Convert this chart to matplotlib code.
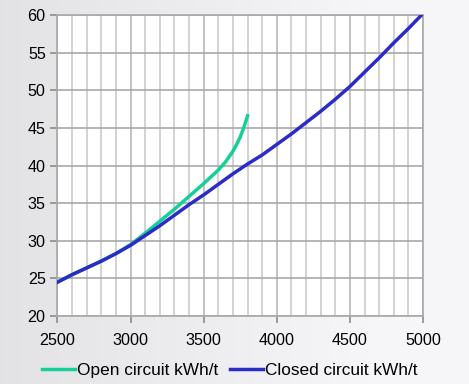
import matplotlib.pyplot as plt
import numpy as np

plt.rcParams['font.family'] = ['Liberation Sans', 'DejaVu Sans']

# energy (kWh/t) vs value
closed_x = [2500, 2600, 2700, 2800, 2900, 3000, 3100, 3200, 3300, 3400, 3500, 3600, 3700,
            3800, 3900, 4000, 4100, 4200, 4300, 4400, 4500, 4600, 4700, 4800, 4900, 5000]
closed_y = [24.5, 25.5, 26.4, 27.3, 28.3, 29.4, 30.7, 32.0, 33.4, 34.8, 36.1, 37.5, 38.9,
            40.2, 41.4, 42.8, 44.2, 45.7, 47.2, 48.8, 50.5, 52.4, 54.3, 56.3, 58.2, 60.2]

open_x = [2500, 2600, 2700, 2800, 2900, 3000, 3100, 3200, 3300, 3400, 3500, 3600, 3650,
          3700, 3725, 3750, 3775, 3800]
open_y = [24.5, 25.5, 26.4, 27.3, 28.3, 29.5, 31.0, 32.6, 34.2, 35.9, 37.6, 39.4, 40.5,
          41.9, 42.8, 43.8, 45.1, 46.6]

green = '#14CF98'
blue = '#2B2BC6'

fig = plt.figure(figsize=(4.69, 3.84), dpi=100)

# soft grey background, darker on the left
bg = fig.add_axes([0, 0, 1, 1], zorder=-10)
grad = np.minimum(np.linspace(0.89, 0.985, 256), 0.965)
img = np.tile(grad, (10, 1))
bg.imshow(np.dstack([img, img, img * 1.01]).clip(0, 1), aspect='auto', extent=[0, 1, 0, 1])
bg.axis('off')

ax = fig.add_axes([0.1226, 0.177, 0.7794, 0.784])
ax.set_facecolor('white')

ax.plot(open_x, open_y, color=green, lw=2.5, label='Open circuit kWh/t', zorder=3)
ax.plot(closed_x, closed_y, color=blue, lw=2.5, label='Closed circuit kWh/t', zorder=4)

ax.set_xlim(2500, 5000)
ax.set_ylim(20, 60)
ax.set_xticks(np.arange(2500, 5001, 500))
ax.set_xticks(np.arange(2500, 5001, 100), minor=True)
ax.set_yticks(np.arange(20, 61, 5))

ax.grid(True, which='minor', axis='x', color='#cfcfcf', lw=1.3)
ax.grid(True, which='major', axis='x', color='#bdbdbd', lw=1.3)
ax.grid(True, which='major', axis='y', color='#a8a8a8', lw=1.2)
ax.set_axisbelow(True)

for s in ax.spines.values():
    s.set_color('#a8a8a8')
    s.set_linewidth(1.2)

ax.tick_params(axis='both', which='major', labelsize=11.6, color='#8c8c8c', length=5, width=1.2)
ax.tick_params(axis='x', which='minor', length=0)
ax.tick_params(axis='x', pad=7)

ax.legend(loc='upper center', bbox_to_anchor=(0.471, -0.105), ncol=2, frameon=False,
          fontsize=12.4, handlelength=1.9, handletextpad=0.12, columnspacing=0.7)

fig.savefig('out.png', dpi=100, facecolor=fig.get_facecolor())
